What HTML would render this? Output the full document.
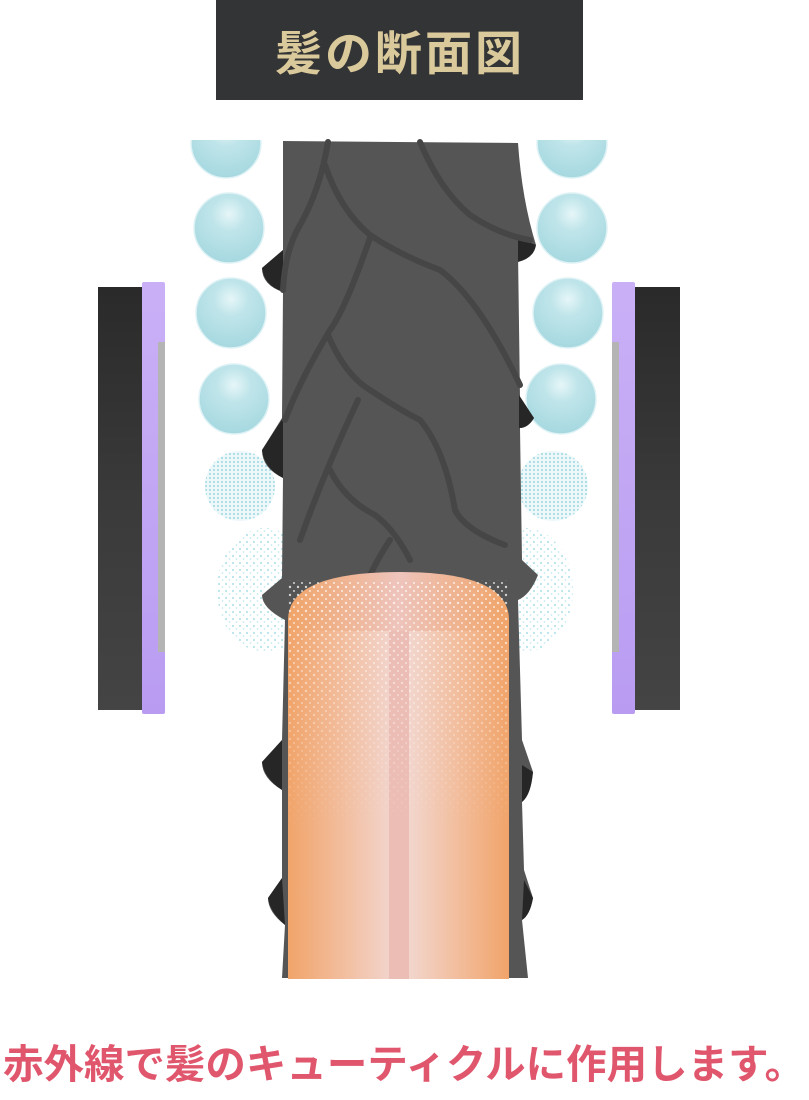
<!DOCTYPE html>
<html><head><meta charset="utf-8"><style>
html,body{margin:0;padding:0;background:#fff;width:809px;height:1100px;overflow:hidden}
svg{display:block}
.t{font-family:"Liberation Sans","Noto Sans CJK JP",sans-serif;font-weight:bold}
</style></head><body>
<svg width="809" height="1100" viewBox="0 0 809 1100" xmlns="http://www.w3.org/2000/svg">
<defs>
<radialGradient id="bub" cx="0.5" cy="0.3" r="0.7">
<stop offset="0" stop-color="#e6f6f8"/><stop offset="0.35" stop-color="#bfe5ea"/><stop offset="1" stop-color="#a6d8e0"/>
</radialGradient>
<pattern id="dots" width="4" height="4" patternUnits="userSpaceOnUse">
<rect width="4" height="4" fill="#eef8fa"/><circle cx="2" cy="2" r="1.1" fill="#a9dbe3"/>
</pattern>
<pattern id="dots2" width="7" height="7" patternUnits="userSpaceOnUse">
<circle cx="2" cy="3" r="1.1" fill="#b8e3ea"/><circle cx="5.5" cy="6" r="0.9" fill="#c6eaef"/>
</pattern>
<pattern id="wdots" width="8" height="8" patternUnits="userSpaceOnUse">
<circle cx="2" cy="3" r="1.2" fill="#fff"/><circle cx="6" cy="7" r="1" fill="#fff"/>
</pattern>
<linearGradient id="fade" x1="0" x2="0" y1="0" y2="1">
<stop offset="0" stop-color="#fff" stop-opacity="0.8"/><stop offset="1" stop-color="#fff" stop-opacity="0"/>
</linearGradient>
<mask id="fm"><rect x="288" y="572" width="221" height="260" fill="url(#fade)"/></mask>
<linearGradient id="cor" x1="0" x2="1">
<stop offset="0" stop-color="#f0a468"/><stop offset="0.5" stop-color="#eec4bc"/><stop offset="1" stop-color="#f0a468"/>
</linearGradient>
<linearGradient id="corL" x1="0" x2="1">
<stop offset="0" stop-color="#f1a46a"/><stop offset="1" stop-color="#f3d5cc"/>
</linearGradient>
<linearGradient id="corR" x1="0" x2="1">
<stop offset="0" stop-color="#f3d8d0"/><stop offset="1" stop-color="#f1a46a"/>
</linearGradient>
<linearGradient id="pur" x1="0" x2="0" y1="0" y2="1">
<stop offset="0" stop-color="#c9b0f6"/><stop offset="1" stop-color="#b99cf2"/>
</linearGradient>
<linearGradient id="blk" x1="0" x2="0" y1="0" y2="1">
<stop offset="0" stop-color="#2a2a2a"/><stop offset="0.5" stop-color="#3a3a3a"/><stop offset="1" stop-color="#444"/>
</linearGradient>
</defs>

<rect x="216" y="0" width="367" height="100" fill="#333435"/>
<text class="t" x="400" y="70" text-anchor="middle" font-size="47" fill="#d9c99b" letter-spacing="3">髪の断面図</text>

<rect x="98" y="287" width="46" height="423" fill="url(#blk)"/>
<rect x="142" y="282" width="23" height="432" rx="2" fill="url(#pur)"/>
<rect x="158" y="342" width="7" height="310" fill="#b4b4b4"/>
<rect x="635" y="287" width="45" height="423" fill="url(#blk)"/>
<rect x="612" y="282" width="23" height="432" rx="2" fill="url(#pur)"/>
<rect x="612" y="342" width="7" height="310" fill="#b4b4b4"/>

<g stroke="#dff2f5" stroke-width="1.5">
<circle cx="226" cy="143" r="35" fill="url(#bub)"/>
<circle cx="229" cy="228" r="35" fill="url(#bub)"/>
<circle cx="231" cy="313" r="35" fill="url(#bub)"/>
<circle cx="234" cy="399" r="35" fill="url(#bub)"/>
<circle cx="572" cy="143" r="35" fill="url(#bub)"/>
<circle cx="572" cy="228" r="35" fill="url(#bub)"/>
<circle cx="568" cy="313" r="35" fill="url(#bub)"/>
<circle cx="561" cy="399" r="35" fill="url(#bub)"/>
</g>
<rect x="180" y="100" width="450" height="40" fill="#fff"/>
<circle cx="240" cy="486" r="35" fill="url(#dots)"/>
<circle cx="553" cy="486" r="35" fill="url(#dots)"/>
<ellipse cx="265" cy="590" rx="48" ry="62" fill="url(#dots2)"/>
<ellipse cx="525" cy="590" rx="48" ry="62" fill="url(#dots2)"/>

<path d="M283 141 L518 143 Q522 200 536 245 L518 252 L520 398 L534 418 Q528 428 520 428 L522 560 L538 575 Q530 595 518 600 L522 740 L533 772 Q530 795 522 802 L524 870 L533 898 Q530 915 522 920 L528 978 L282 978 L285 925 Q268 912 268 898 L282 878 L282 790 Q262 778 262 762 L282 740 L285 620 Q262 608 262 595 L282 578 L283 478 Q262 468 262 450 L282 418 L283 292 Q262 285 262 268 L283 250 Z" fill="#555555"/>
<g fill="#262626">
<path d="M283 250 L262 268 Q264 285 283 292 Z"/>
<path d="M518 238 L536 245 Q534 258 518 262 Z"/>
<path d="M283 418 L262 450 Q264 468 283 478 Z"/>
<path d="M519 395 L534 418 Q528 428 519 428 Z"/>
<path d="M282 740 L262 762 Q264 778 282 790 Z"/>
<path d="M282 878 L268 898 Q270 912 285 925 Z"/>
<path d="M522 765 L533 772 Q531 795 522 802 Z"/>
<path d="M524 880 L533 898 Q530 915 522 920 Z"/>
</g>
<g fill="none" stroke="#464646" stroke-width="6" stroke-linecap="round">
<path d="M328 142 Q320 190 300 225 Q285 250 283 290"/>
<path d="M325 165 Q340 210 370 235 Q400 255 440 270 Q480 300 520 385"/>
<path d="M370 238 Q345 310 330 330 Q300 380 285 420"/>
<path d="M420 142 Q440 190 470 215 Q500 235 530 240"/>
<path d="M328 335 Q345 375 370 390 Q400 410 420 420 Q445 450 455 510 Q465 530 505 545"/>
<path d="M358 400 Q325 470 300 540"/>
<path d="M330 470 Q345 500 375 515 Q395 530 410 560"/>
<path d="M390 540 Q370 570 360 600"/>
</g>

<path d="M288 979 L288 620 Q288 572 400 572 Q509 572 509 620 L509 979 Z" fill="url(#cor)"/>
<rect x="288" y="631" width="101" height="348" fill="url(#corL)" opacity="0.9"/>
<rect x="409" y="631" width="100" height="348" fill="url(#corR)" opacity="0.9"/>
<rect x="389" y="631" width="20" height="348" fill="#ecbdb4"/>
<rect x="288" y="580" width="221" height="250" fill="url(#wdots)" mask="url(#fm)"/>

<text class="t" x="404" y="1078" text-anchor="middle" font-size="40" fill="#e0566d" textLength="802" lengthAdjust="spacingAndGlyphs">赤外線で髪のキューティクルに作用します。</text>
</svg>
</body></html>
